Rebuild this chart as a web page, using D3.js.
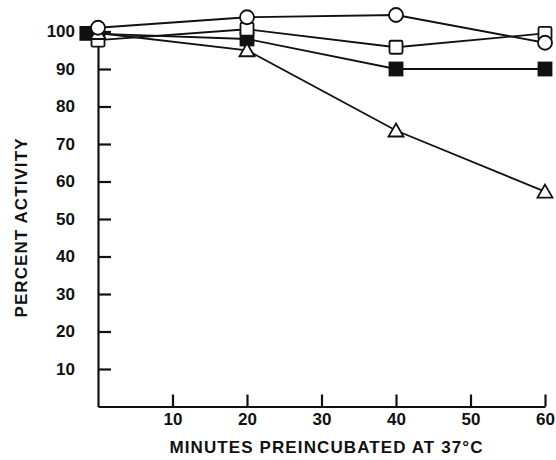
<!DOCTYPE html>
<html>
<head>
<meta charset="utf-8">
<script src="https://cdn.jsdelivr.net/npm/d3@7"></script>
<style>
  body { margin: 0; background: #fff; }
  text { font-family: "Liberation Sans", Arial, sans-serif; font-weight: bold; fill: #111; }
</style>
</head>
<body>
<script>
// data
let xTicks = [10, 20, 30, 40, 50, 60];
let yTicks = [10, 20, 30, 40, 50, 60, 70, 80, 90, 100];
let openCircle   = [[0, 101], [20, 103.8], [40, 104.4], [60, 97]];
let openSquare   = [[0, 97.7], [20, 100.6], [40, 95.8], [60, 99.5]];
let filledSquare = [[-1.5, 99.5], [20, 98], [40, 90], [60, 90]];
let triangle     = [[0, 99.6], [20, 95], [40, 73.6], [60, 57.3]];

let size = {width: 556, height: 460};
let svg = d3.select("body").append("svg")
    .attr("width", size.width).attr("height", size.height);

let x = d3.scaleLinear().domain([0, 60]).range([98, 545]);
let y = d3.scaleLinear().domain([0, 100]).range([406.5, 31.5]);

// axes
let xAxis = svg.append("g").attr("transform", "translate(0," + y(0) + ")")
    .call(d3.axisBottom(x).tickValues(xTicks).tickSize(-12).tickSizeOuter(0).tickPadding(6));
let yAxis = svg.append("g").attr("transform", "translate(" + x(0) + ",0)")
    .call(d3.axisLeft(y).tickValues(yTicks).tickSize(-13).tickSizeOuter(0).tickPadding(23));
[xAxis, yAxis].forEach(a => {
  a.selectAll("path,line").attr("stroke", "#111").attr("stroke-width", 2.2);
  a.selectAll("text").attr("font-size", 17).attr("font-family", "Liberation Sans, Arial, sans-serif")
    .attr("font-weight", "bold").attr("fill", "#111");
});

svg.append("text").attr("x", 326).attr("y", 453).attr("text-anchor", "middle")
  .attr("font-size", 17).attr("textLength", 313).attr("lengthAdjust", "spacing")
  .text("MINUTES PREINCUBATED AT 37°C");
svg.append("text").attr("transform", "translate(27,228) rotate(-90)").attr("text-anchor", "middle")
  .attr("font-size", 17).attr("textLength", 179).attr("lengthAdjust", "spacing")
  .text("PERCENT ACTIVITY");

let line = d3.line().x(d => x(d[0])).y(d => y(d[1]));
[openCircle, openSquare, filledSquare, triangle].forEach(s => {
  svg.append("path").datum(s).attr("d", line)
    .attr("fill", "none").attr("stroke", "#111").attr("stroke-width", 1.8);
});

let marks = svg.append("g").attr("stroke", "#111").attr("stroke-width", 1.8);
marks.selectAll(".fsq").data(filledSquare).join("rect")
  .attr("x", d => x(d[0]) - 6.5).attr("y", d => y(d[1]) - 6.5)
  .attr("width", 13).attr("height", 13).attr("fill", "#111");
marks.selectAll(".osq").data(openSquare).join("rect")
  .attr("x", d => x(d[0]) - 6.5).attr("y", d => y(d[1]) - 6.5)
  .attr("width", 13).attr("height", 13).attr("rx", 1.5).attr("fill", "#fff");
marks.selectAll(".tri").data(triangle).join("path")
  .attr("transform", d => "translate(" + x(d[0]) + "," + y(d[1]) + ")")
  .attr("d", "M0,-7L7.5,6L-7.5,6Z").attr("fill", "#fff");
marks.selectAll(".cir").data(openCircle).join("circle")
  .attr("cx", d => x(d[0])).attr("cy", d => y(d[1])).attr("r", 7).attr("fill", "#fff");
</script>
</body>
</html>
